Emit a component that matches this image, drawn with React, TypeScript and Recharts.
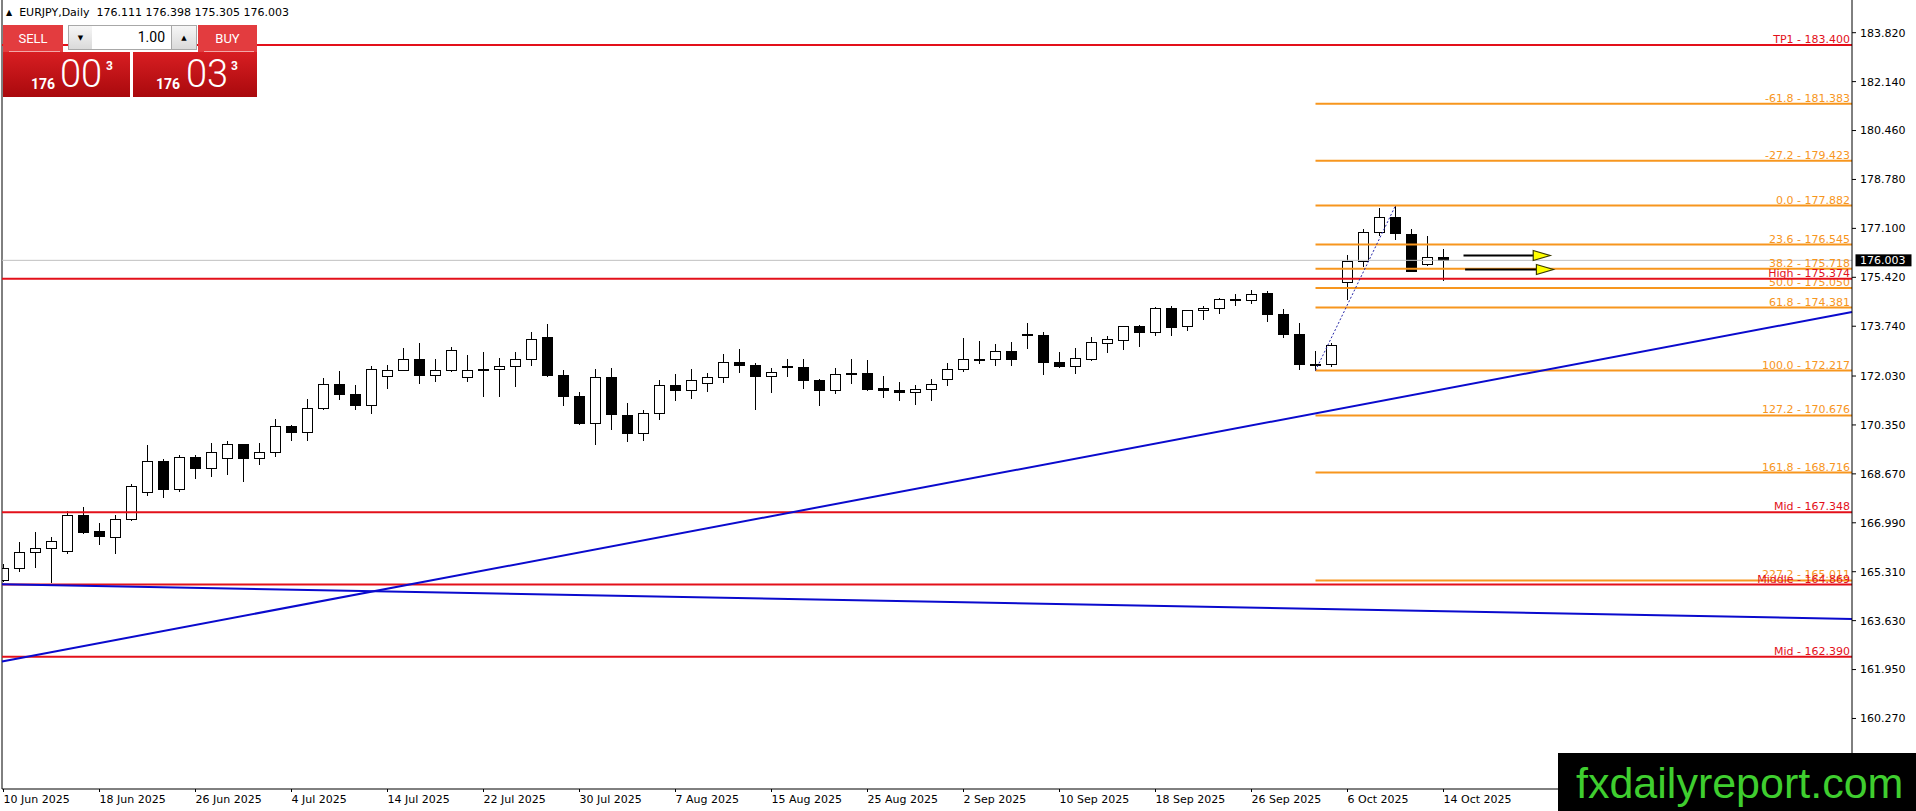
import React from 'react';
import { ComposedChart, Bar, XAxis, YAxis, ReferenceLine } from 'recharts';

// daily bars, EURJPY
const DATES = [
  '10 Jun 2025', '11 Jun 2025', '12 Jun 2025', '13 Jun 2025', '16 Jun 2025', '17 Jun 2025', '18 Jun 2025', '19 Jun 2025',
  '20 Jun 2025', '23 Jun 2025', '24 Jun 2025', '25 Jun 2025', '26 Jun 2025', '27 Jun 2025', '30 Jun 2025',
  '1 Jul 2025', '2 Jul 2025', '3 Jul 2025', '4 Jul 2025', '7 Jul 2025', '8 Jul 2025', '9 Jul 2025', '10 Jul 2025',
  '11 Jul 2025', '14 Jul 2025', '15 Jul 2025', '16 Jul 2025', '17 Jul 2025', '18 Jul 2025', '21 Jul 2025', '22 Jul 2025',
  '23 Jul 2025', '24 Jul 2025', '25 Jul 2025', '28 Jul 2025', '29 Jul 2025', '30 Jul 2025', '31 Jul 2025',
  '1 Aug 2025', '4 Aug 2025', '5 Aug 2025', '6 Aug 2025', '7 Aug 2025', '8 Aug 2025', '11 Aug 2025', '12 Aug 2025',
  '13 Aug 2025', '14 Aug 2025', '15 Aug 2025', '18 Aug 2025', '19 Aug 2025', '20 Aug 2025', '21 Aug 2025', '22 Aug 2025',
  '25 Aug 2025', '26 Aug 2025', '27 Aug 2025', '28 Aug 2025', '29 Aug 2025',
  '1 Sep 2025', '2 Sep 2025', '3 Sep 2025', '4 Sep 2025', '5 Sep 2025', '8 Sep 2025', '9 Sep 2025', '10 Sep 2025',
  '11 Sep 2025', '12 Sep 2025', '15 Sep 2025', '16 Sep 2025', '17 Sep 2025', '18 Sep 2025', '19 Sep 2025', '22 Sep 2025',
  '23 Sep 2025', '24 Sep 2025', '25 Sep 2025', '26 Sep 2025', '29 Sep 2025', '30 Sep 2025',
  '1 Oct 2025', '2 Oct 2025', '3 Oct 2025', '6 Oct 2025', '7 Oct 2025', '8 Oct 2025', '9 Oct 2025', '10 Oct 2025',
  '13 Oct 2025', '14 Oct 2025',
];

const OPEN = [
  165.01, 165.43, 165.99, 166.11, 166.02, 167.26, 166.71, 166.49, 167.12, 168.04,
  169.11, 168.14, 169.26, 168.87, 169.21, 169.69, 169.21, 169.42, 170.31, 170.11,
  170.92, 171.77, 171.42, 171.02, 172.03, 172.22, 172.61, 172.06, 172.22, 171.99,
  172.27, 172.27, 172.37, 172.61, 173.37, 172.06, 171.35, 170.40, 171.99, 170.69,
  170.09, 170.76, 171.72, 171.54, 171.79, 171.99, 172.51, 172.42, 172.03, 172.37,
  172.35, 171.89, 171.54, 172.11, 172.13, 171.62, 171.56, 171.48, 171.58, 171.92,
  172.27, 172.60, 172.61, 172.90, 173.48, 173.45, 172.52, 172.37, 172.63, 173.16,
  173.25, 173.76, 173.54, 174.36, 173.74, 174.29, 174.36, 174.64, 174.64, 174.89,
  174.16, 173.48, 172.44, 172.44, 175.26, 175.98, 176.97, 177.49, 176.91, 175.87,
  176.111,
];
const HIGH = [
  165.59, 166.34, 166.69, 166.50, 167.38, 167.53, 166.98, 167.26, 168.33, 169.65,
  169.19, 169.32, 169.32, 169.73, 169.80, 169.69, 169.73, 170.56, 170.35, 171.24,
  171.96, 172.21, 171.73, 172.36, 172.42, 173.00, 173.17, 172.62, 173.03, 172.76,
  172.86, 172.65, 172.85, 173.55, 173.81, 172.23, 171.49, 172.27, 172.30, 171.11,
  170.87, 171.89, 172.11, 172.28, 172.14, 172.80, 172.97, 172.47, 172.30, 172.61,
  172.61, 171.93, 172.30, 172.61, 172.58, 172.02, 171.82, 171.73, 171.94, 172.47,
  173.34, 173.24, 173.14, 173.21, 173.86, 173.53, 172.86, 173.00, 173.38, 173.39,
  173.75, 173.79, 174.41, 174.44, 174.30, 174.43, 174.72, 174.85, 174.99, 174.96,
  174.34, 173.85, 172.90, 173.16, 176.19, 177.09, 177.80, 177.882, 177.07, 176.85,
  176.398,
];
const LOW = [
  164.95, 165.29, 165.43, 164.92, 165.91, 166.62, 166.24, 165.93, 167.04, 167.90,
  167.83, 168.06, 168.48, 168.55, 168.62, 168.38, 168.96, 169.25, 169.79, 169.81,
  170.87, 171.20, 170.85, 170.71, 171.59, 172.19, 171.74, 171.84, 172.16, 171.84,
  171.30, 171.30, 171.67, 172.39, 171.99, 170.99, 170.36, 169.65, 170.19, 169.76,
  169.81, 170.53, 171.18, 171.25, 171.47, 171.78, 172.15, 170.88, 171.43, 171.98,
  171.60, 171.01, 171.42, 171.74, 171.50, 171.26, 171.16, 171.04, 171.16, 171.70,
  172.18, 172.46, 172.36, 172.39, 172.97, 172.05, 172.29, 172.11, 172.53, 172.81,
  172.94, 173.01, 173.42, 173.39, 173.58, 173.97, 174.15, 174.42, 174.51, 173.90,
  173.32, 172.24, 172.217, 172.33, 174.65, 175.77, 176.85, 176.69, 175.60, 175.82,
  175.305,
];
const CLOSE = [
  165.44, 165.99, 166.12, 166.36, 167.26, 166.67, 166.53, 167.12, 168.25, 169.11,
  168.14, 169.25, 168.86, 169.42, 169.69, 169.21, 169.42, 170.31, 170.11, 170.93,
  171.77, 171.40, 171.02, 172.28, 172.23, 172.61, 172.05, 172.23, 172.92, 172.23,
  172.23, 172.37, 172.61, 173.30, 172.05, 171.33, 170.40, 171.99, 170.71, 170.09,
  170.77, 171.72, 171.54, 171.89, 171.99, 172.51, 172.41, 172.02, 172.16, 172.38,
  171.88, 171.54, 172.10, 172.13, 171.57, 171.55, 171.48, 171.58, 171.75, 172.27,
  172.61, 172.62, 172.89, 172.63, 173.46, 172.50, 172.36, 172.65, 173.20, 173.30,
  173.74, 173.53, 174.36, 173.73, 174.29, 174.36, 174.67, 174.66, 174.84, 174.16,
  173.46, 172.44, 172.45, 173.09, 175.98, 176.97, 177.49, 176.94, 175.64, 176.11,
  176.003,
];

const X_TICK_DATES = [
  '10 Jun 2025', '18 Jun 2025', '26 Jun 2025', '4 Jul 2025', '14 Jul 2025', '22 Jul 2025', '30 Jul 2025', '7 Aug 2025',
  '15 Aug 2025', '25 Aug 2025', '2 Sep 2025', '10 Sep 2025', '18 Sep 2025', '26 Sep 2025', '6 Oct 2025', '14 Oct 2025',
];
const Y_TICKS = [
  183.82, 182.14, 180.46, 178.78, 177.1, 175.42, 173.74, 172.03, 170.35, 168.67, 166.99, 165.31, 163.63, 161.95, 160.27,
];

// fibonacci drawn from the 2 Oct low to the 9 Oct high
const FIB_LEVELS = [-61.8, -27.2, 0, 23.6, 38.2, 50, 61.8, 100, 127.2, 161.8, 227.2];
const FIB_PRICES = [181.383, 179.423, 177.882, 176.545, 175.718, 175.05, 174.381, 172.217, 170.676, 168.716, 165.011];
const FIB_LOW_DATE = '2 Oct 2025';
const FIB_HIGH_DATE = '9 Oct 2025';

const LEVEL_NAMES = ['TP1', 'High', 'Mid', 'Middle', 'Mid'];
const LEVEL_PRICES = [183.4, 175.374, 167.348, 164.869, 162.39];

// trendlines: price at the left and right edge of the window
const TREND_UP = [162.227, 174.229];
const TREND_DOWN = [164.878, 163.69];

// arrows (bar position from/to, price)
const ARROW_FROM = [92.25, 92.35];
const ARROW_TO = [97.67, 97.87];
const ARROW_PRICES = [176.17, 175.69];

const LAST = 176.003;
const HEADER_OHLC = ['176.111', '176.398', '175.305', '176.003'];
const BID = ['176', '00', '3'];
const ASK = ['176', '03', '3'];
const LOT = '1.00';

const X_MIN = 0.90625;
const X_MAX = 116.53125;
const Y_MIN = 157.848;
const Y_MAX = 184.943;

const data = DATES.map((d, i) => ({
  i: i + 1,
  date: d,
  o: OPEN[i],
  h: HIGH[i],
  l: LOW[i],
  c: CLOSE[i],
  range: [LOW[i], HIGH[i]],
}));

const barOf = (d: string) => DATES.indexOf(d) + 1;

const RED = '#e3101a';
const ORANGE = '#f7961e';
const BLUE = '#0a0acd';
const FONT = '"DejaVu Sans", Verdana, sans-serif';

const Candle = (props: any) => {
  const { x, y, width, height, payload } = props;
  if (x == null || !payload) return null;
  const top = Math.min(y, y + height);
  const bottom = Math.max(y, y + height);
  const k = (bottom - top) / (payload.h - payload.l || 1);
  const py = (v: number) => top + (payload.h - v) * k;
  const cx = Math.floor(x + width / 2) + 0.5;
  const yo = py(payload.o);
  const yc = py(payload.c);
  const bt = Math.round(Math.min(yo, yc)) + 0.5;
  let bb = Math.round(Math.max(yo, yc)) + 0.5;
  if (bb - bt < 1) bb = bt + 1;
  const down = payload.c < payload.o;
  return (
    <g>
      <line x1={cx} x2={cx} y1={Math.round(top)} y2={Math.round(bottom)} stroke="#000" strokeWidth={1} />
      <rect x={cx - 5} y={bt} width={10} height={bb - bt} fill={down ? '#000' : '#fff'} stroke="#000" strokeWidth={1} />
    </g>
  );
};

const DateTick = ({ x, y, payload }: any) => (
  <text x={x} y={y + 8} textAnchor="start" fontSize={11} fill="#000" fontFamily={FONT}>
    {DATES[payload.value - 1]}
  </text>
);

const lineLabel = (text: string, color: string) => (props: any) => {
  const { x, y, width } = props.viewBox;
  return (
    <text x={x + width - 2} y={y - 2} textAnchor="end" fill={color} fontSize={11} fontFamily={FONT}>
      {text}
    </text>
  );
};

const priceTag = (props: any) => {
  const { x, y, width } = props.viewBox;
  return (
    <g>
      <rect x={x + width + 3.5} y={y - 6} width={56} height={12} fill="#000" />
      <text x={x + width + 8} y={y + 4} fill="#fff" fontSize={11} fontFamily={FONT}>
        {LAST.toFixed(3)}
      </text>
    </g>
  );
};

const Arrow = (props: any) => {
  const { x1, y1, x2 } = props;
  const y = Math.round(y1) + 0.5;
  return (
    <g>
      <line x1={x1} y1={y} x2={x2 - 6} y2={y} stroke="#000" strokeWidth={2} />
      <polygon
        points={`${x2 - 17},${y - 5} ${x2},${y} ${x2 - 17},${y + 5}`}
        fill="#ffff00"
        stroke="#3a3a00"
        strokeWidth={1.2}
      />
    </g>
  );
};

const priceBox = (parts: string[], left: number, width: number, offs: number[]) => (
  <div
    style={{
      position: 'absolute',
      left,
      top: 52,
      width,
      height: 45,
      background: 'linear-gradient(#d81e22, #a9090d)',
      color: '#fff',
      fontFamily: 'Roboto, sans-serif',
    }}
  >
    <span style={{ position: 'absolute', left: offs[0], top: 24.5, fontSize: 14, fontWeight: 700, lineHeight: 1 }}>
      {parts[0]}
    </span>
    <span style={{ position: 'absolute', left: offs[1], top: 3, fontSize: 38, fontWeight: 300, lineHeight: 1 }}>
      {parts[1]}
    </span>
    <span style={{ position: 'absolute', left: offs[2], top: 8, fontSize: 12, fontWeight: 700, lineHeight: 1 }}>
      {parts[2]}
    </span>
  </div>
);

const button = (text: string, left: number, width: number) => (
  <div
    style={{
      position: 'absolute',
      left,
      top: 25,
      width,
      height: 27,
      background: '#e33c3f',
      color: '#fff',
      fontFamily: 'Roboto, sans-serif',
      fontSize: 13,
      display: 'flex',
      alignItems: 'center',
      justifyContent: 'center',
    }}
  >
    {text}
    <div style={{ position: 'absolute', left: 6, right: 3, bottom: 0, height: 1, background: 'rgba(255,255,255,0.55)' }} />
  </div>
);

const spin = (glyph: string, left: number, width: number) => (
  <div
    style={{
      position: 'absolute',
      left,
      top: 25,
      width,
      height: 25,
      boxSizing: 'border-box',
      border: '1px solid #a8a8a8',
      background: 'linear-gradient(#f6f6f6, #dadada)',
      fontSize: 7,
      display: 'flex',
      alignItems: 'center',
      justifyContent: 'center',
      color: '#000',
    }}
  >
    {glyph}
  </div>
);

export default function App() {
  const fibStart = barOf(FIB_LOW_DATE);
  return (
    <div style={{ position: 'relative', width: 1916, height: 811, overflow: 'hidden', background: '#fff', fontFamily: FONT }}>
      <style>{'body{margin:0}'}</style>
      <ComposedChart width={1916} height={811} data={data} margin={{ top: 0, right: 0, bottom: 0, left: 2 }}>
        <XAxis
          dataKey="i"
          type="number"
          domain={[X_MIN, X_MAX]}
          allowDataOverflow
          ticks={X_TICK_DATES.map(barOf)}
          interval={0}
          height={22}
          tick={<DateTick />}
          tickSize={3}
          tickMargin={3}
          axisLine={{ stroke: '#000' }}
          tickLine={{ stroke: '#000' }}
        />
        <YAxis
          orientation="right"
          type="number"
          domain={[Y_MIN, Y_MAX]}
          allowDataOverflow
          ticks={Y_TICKS}
          interval={0}
          width={64}
          tickFormatter={(v: number) => v.toFixed(3)}
          tick={{ fontSize: 11, fill: '#000', fontFamily: FONT }}
          tickSize={4}
          tickMargin={4}
          axisLine={{ stroke: '#000' }}
          tickLine={{ stroke: '#000' }}
        />
        <Bar dataKey="range" barSize={11} shape={<Candle />} isAnimationActive={false} />

        <ReferenceLine x={X_MIN} stroke="#000" ifOverflow="visible" />
        <ReferenceLine y={LAST} stroke="#c0c0c0" strokeWidth={1} label={priceTag} />

        {FIB_PRICES.map((p, k) => (
          <ReferenceLine
            key={`fib-${k}`}
            segment={[{ x: fibStart, y: p }, { x: X_MAX, y: p }]}
            stroke={ORANGE}
            strokeWidth={2}
            ifOverflow="visible"
            label={lineLabel(`${FIB_LEVELS[k].toFixed(1)} - ${p.toFixed(3)}`, ORANGE)}
          />
        ))}

        {LEVEL_PRICES.map((p, k) => (
          <ReferenceLine
            key={`lvl-${k}`}
            y={p}
            stroke={RED}
            strokeWidth={2}
            label={lineLabel(`${LEVEL_NAMES[k]} - ${p.toFixed(3)}`, RED)}
          />
        ))}

        <ReferenceLine
          segment={[{ x: X_MIN, y: TREND_UP[0] }, { x: X_MAX, y: TREND_UP[1] }]}
          stroke={BLUE}
          strokeWidth={2}
          ifOverflow="visible"
        />
        <ReferenceLine
          segment={[{ x: X_MIN, y: TREND_DOWN[0] }, { x: X_MAX, y: TREND_DOWN[1] }]}
          stroke={BLUE}
          strokeWidth={2}
          ifOverflow="visible"
        />
        <ReferenceLine
          segment={[
            { x: fibStart, y: FIB_PRICES[7] },
            { x: barOf(FIB_HIGH_DATE), y: FIB_PRICES[2] },
          ]}
          stroke="#2626a8"
          strokeWidth={1}
          strokeDasharray="2 2"
          ifOverflow="visible"
        />
        {ARROW_PRICES.map((p, k) => (
          <ReferenceLine
            key={`arr-${k}`}
            segment={[{ x: ARROW_FROM[k], y: p }, { x: ARROW_TO[k], y: p }]}
            ifOverflow="visible"
            shape={<Arrow />}
          />
        ))}
      </ComposedChart>

      {/* header */}
      <div style={{ position: 'absolute', left: 6, top: 6, fontSize: 11, lineHeight: '13px', color: '#000', whiteSpace: 'pre' }}>
        <span style={{ fontSize: 8, verticalAlign: 1 }}>▲</span>
        {'  EURJPY,Daily  '}
        {HEADER_OHLC.join(' ')}
      </div>

      {/* one click trading panel */}
      {button('SELL', 3, 60)}
      {spin('▼', 68, 25)}
      <div
        style={{
          position: 'absolute',
          left: 92,
          top: 25,
          width: 79,
          height: 25,
          boxSizing: 'border-box',
          border: '1px solid #a8a8a8',
          borderLeft: 'none',
          borderRight: 'none',
          background: '#fff',
          fontFamily: 'Roboto, sans-serif',
          fontSize: 14,
          textAlign: 'right',
          paddingRight: 6,
          lineHeight: '23px',
          color: '#000',
        }}
      >
        {LOT}
      </div>
      {spin('▲', 171, 26)}
      {button('BUY', 198, 59)}
      {priceBox(BID, 3, 127, [28, 57, 103])}
      {priceBox(ASK, 133, 124, [23, 53, 98])}

      {/* watermark */}
      <div
        style={{
          position: 'absolute',
          left: 1558,
          top: 753,
          width: 358,
          height: 58,
          background: '#000',
          color: '#3fce2f',
          fontFamily: '"Liberation Sans", Arial, sans-serif',
          fontSize: 43,
        }}
      >
        <span style={{ position: 'absolute', left: 18, top: 8.6, lineHeight: 1 }}>fxdailyreport.com</span>
      </div>
    </div>
  );
}
